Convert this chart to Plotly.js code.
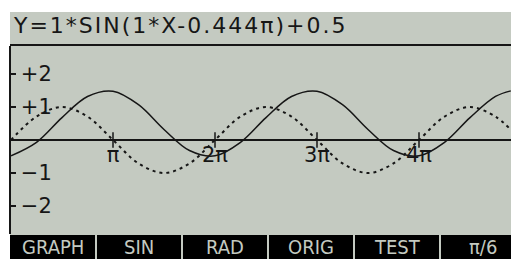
<!DOCTYPE html>
<html>
<head>
<meta charset="utf-8">
<script src="https://cdn.plot.ly/plotly-3.0.1.min.js"></script>
<style>
html,body{margin:0;padding:0;background:#fff;}
#chart{width:511px;height:259px;}
</style>
</head>
<body>
<div id="chart"></div>
<script>
// x positions in multiples of pi
const xPi = [0,0.25,0.5,0.75,1,1.25,1.5,1.75,2,2.25,2.5,2.75,3,3.25,3.5,3.75,4,4.25,4.5,4.75,4.9];
// solid curve: Y=1*SIN(1*X-0.444π)+0.5
const ySolid = [-0.48,-0.07,0.68,1.32,1.48,1.07,0.32,-0.32,-0.48,-0.07,0.68,1.32,1.48,1.07,0.32,-0.32,-0.48,-0.07,0.68,1.32,1.49];
// dotted reference curve: SIN(X)
const yDotted = [0,0.71,1,0.71,0,-0.71,-1,-0.71,0,0.71,1,0.71,0,-0.71,-1,-0.71,0,0.71,1,0.71,0.31];
// axis ticks
const xTickVals = [1,2,3,4];
const xTickText = ['π','2π','3π','4π'];
const xTickY = [0,0,0,0];
const yTickVals = [-2,-1,1,2];
const yTickText = ['−2','−1','+1','+2'];
const titleText = 'Y=1*SIN(1*X-0.444π)+0.5';
const menuLabels = ['GRAPH','SIN','RAD','ORIG','TEST','π/6'];

const BG = '#c4cac1';
const INK = '#161616';
const FONT = '"DejaVu Sans", sans-serif';
const FONT_C = '"DejaVu Sans Condensed", "Liberation Sans Narrow", "DejaVu Sans", sans-serif';
const TITLE_SPACING = 2;   // px of extra letter spacing in the title

const W = 511, H = 259;
const M = {l:11, r:0, t:46, b:25};
const PW = W - M.l - M.r, PH = H - M.t - M.b;
const px = v => (v - M.l) / PW;          // pixel x -> paper
const py = v => (H - M.b - v) / PH;      // pixel y -> paper

const traces = [
  {x: xPi, y: yDotted, mode: 'lines', line: {color: INK, width: 2, dash: '3px,4px', shape: 'spline'}, hoverinfo: 'skip'},
  {x: xPi, y: ySolid, mode: 'lines', line: {color: INK, width: 1.5, shape: 'spline'}, hoverinfo: 'skip'},
  {x: xTickVals, y: xTickY, mode: 'markers', marker: {symbol: 'line-ns', size: 11, line: {color: INK, width: 1.5}}, hoverinfo: 'skip'}
];

const shapes = [
  {type: 'rect', xref: 'paper', yref: 'paper', x0: px(10), x1: 1, y0: py(259), y1: py(12), fillcolor: BG, line: {width: 0}, layer: 'below'},
  {type: 'line', xref: 'paper', yref: 'paper', x0: px(10), x1: 1, y0: py(45), y1: py(45), line: {color: INK, width: 2}},
  {type: 'rect', xref: 'paper', yref: 'paper', x0: px(10), x1: 1, y0: py(259), y1: py(235), fillcolor: '#000', line: {width: 0}}
];
// title: extra letter spacing grows the text symmetrically, so pre-shift it by half the added width
const titleShift = TITLE_SPACING * titleText.length / 2;
const annotations = [
  {xref: 'paper', yref: 'paper', x: px(11 + titleShift), y: py(25), xanchor: 'left', yanchor: 'middle', text: titleText, showarrow: false,
   font: {family: FONT, size: 22, color: INK}}
];
menuLabels.forEach((lab, i) => {
  const left = 10 + 86 * i;
  if (i > 0) shapes.push({type: 'line', xref: 'paper', yref: 'paper', x0: px(left), x1: px(left), y0: py(259), y1: py(235), line: {color: BG, width: 2}});
  annotations.push({xref: 'paper', yref: 'paper', x: px(left + 43), y: py(246.5), xanchor: 'center', yanchor: 'middle', text: lab, showarrow: false,
    font: {family: FONT_C, size: 20, color: BG}});
});

const layout = {
  width: W, height: H, margin: M,
  paper_bgcolor: '#ffffff', plot_bgcolor: BG,
  showlegend: false,
  font: {family: FONT, color: INK},
  xaxis: {range: [0, PW / 102], showgrid: false, zeroline: false, showline: false,
          anchor: 'free', position: 0.5,
          tickvals: xTickVals, ticktext: xTickText, ticks: '', tickfont: {family: FONT, size: 21, color: INK}},
  yaxis: {range: [-2.85, 2.85], showgrid: false, zeroline: true, zerolinecolor: INK, zerolinewidth: 2,
          showline: true, linecolor: INK, linewidth: 2,
          tickvals: yTickVals, ticktext: yTickText, ticks: 'inside', ticklen: 5, tickwidth: 1.5, tickcolor: INK,
          ticklabelposition: 'inside', ticklabelstandoff: 6, tickfont: {family: FONT, size: 21, color: INK}},
  shapes: shapes, annotations: annotations
};
Plotly.newPlot('chart', traces, layout, {staticPlot: true, displayModeBar: false}).then(() => {
  const t = document.querySelectorAll('.annotation')[0];
  if (t) { const tx = t.querySelector('text'); if (tx) tx.style.letterSpacing = TITLE_SPACING + 'px'; }
});
</script>
</body>
</html>
